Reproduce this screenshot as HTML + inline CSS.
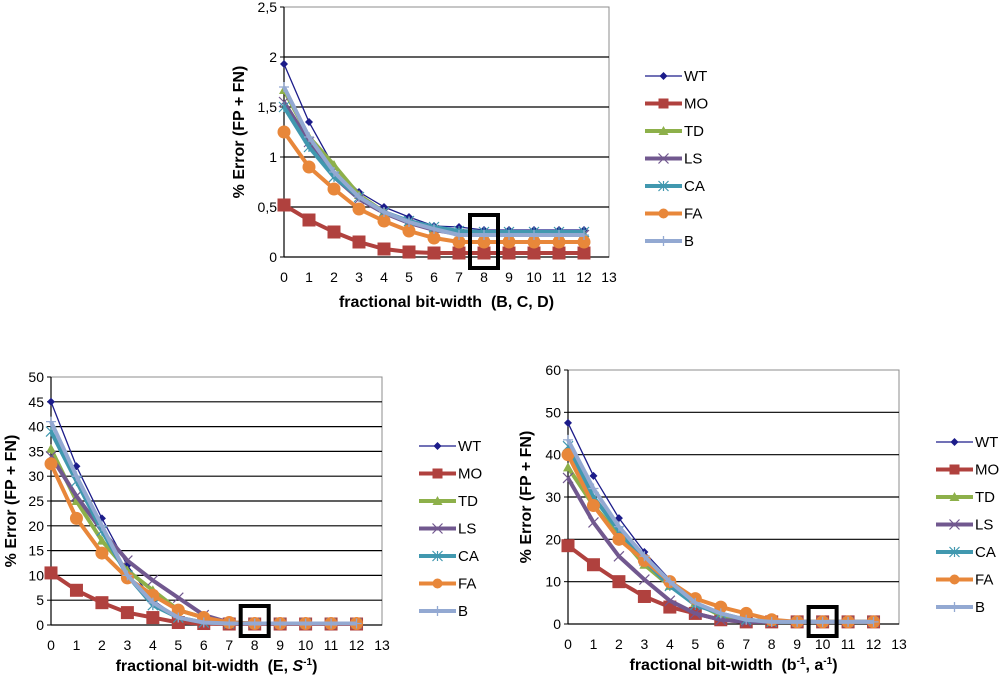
<!DOCTYPE html>
<html><head><meta charset="utf-8">
<style>
body{margin:0;background:#fff;}
svg{display:block;font-family:"Liberation Sans",Arial,sans-serif;}
</style></head>
<body>
<svg id="s" width="1000" height="676" viewBox="0 0 1000 676"></svg>
<script>
const seriesNames=["WT","MO","TD","LS","CA","FA","B"];
const xCategories=[0,1,2,3,4,5,6,7,8,9,10,11,12];
const xTickLabels=["0","1","2","3","4","5","6","7","8","9","10","11","12","13"];
// chart A (top)
const aTicks=["0","0,5","1","1,5","2","2,5"];
const aWT=[1.93,1.35,0.9,0.65,0.5,0.4,0.31,0.3,0.27,0.27,0.27,0.27,0.27];
const aMO=[0.52,0.37,0.25,0.15,0.08,0.05,0.04,0.04,0.04,0.04,0.04,0.04,0.04];
const aTD=[1.67,1.2,0.92,0.62,0.45,0.35,0.28,0.25,0.23,0.23,0.23,0.23,0.23];
const aLS=[1.55,1.15,0.8,0.58,0.44,0.34,0.27,0.23,0.22,0.22,0.22,0.22,0.22];
const aCA=[1.5,1.1,0.8,0.6,0.45,0.36,0.3,0.26,0.25,0.25,0.25,0.25,0.25];
const aFA=[1.25,0.9,0.68,0.48,0.36,0.26,0.19,0.15,0.15,0.15,0.15,0.15,0.15];
const aB=[1.7,1.2,0.85,0.6,0.45,0.35,0.28,0.22,0.22,0.22,0.22,0.22,0.22];
// chart B (bottom-left)
const bTicks=["0","5","10","15","20","25","30","35","40","45","50"];
const bWT=[45,32,21.5,12,5,1.5,0.5,0.2,0.2,0.2,0.2,0.2,0.2];
const bMO=[10.5,7,4.5,2.5,1.5,0.5,0.3,0.2,0.2,0.2,0.2,0.2,0.2];
const bTD=[35.5,25,17,11,7,3,1.5,0.5,0.3,0.3,0.3,0.3,0.3];
const bLS=[34,26,19,13,9,5.5,2,0.5,0.3,0.3,0.3,0.3,0.3];
const bCA=[39,29,19,10,4,1.5,0.5,0.3,0.3,0.3,0.3,0.3,0.3];
const bFA=[32.5,21.5,14.5,9.5,6,3,1.5,0.5,0.3,0.3,0.3,0.3,0.3];
const bB=[41,30,20,10,4.5,1.5,0.5,0.3,0.3,0.3,0.3,0.3,0.3];
// chart C (bottom-right)
const cTicks=["0","10","20","30","40","50","60"];
const cWT=[47.5,35,25,17,10.5,5,2,1,0.5,0.5,0.5,0.5,0.5];
const cMO=[18.5,14,10,6.5,4,2.5,1,0.5,0.5,0.5,0.5,0.5,0.5];
const cTD=[37,28,21,14,9,5,2,1,0.5,0.5,0.5,0.5,0.5];
const cLS=[34.5,24,16,10.5,5.5,2.5,1,0.5,0.5,0.5,0.5,0.5,0.5];
const cCA=[42,30,22,15,9,4.5,2.5,1,0.5,0.5,0.5,0.5,0.5];
const cFA=[40,28,20,15,10,6,4,2.5,1,0.5,0.5,0.5,0.5];
const cB=[43.5,32,23,16,10,5,2.5,1,0.5,0.5,0.5,0.5,0.5];

const styles=[
 {c:"#1C1C8A",w:1.3,m:"diamond",ms:4},
 {c:"#B0413E",w:4,m:"square",ms:6.5},
 {c:"#8DB04A",w:4,m:"triangle",ms:5},
 {c:"#71588F",w:4,m:"x",ms:5},
 {c:"#4198AF",w:4,m:"star",ms:5},
 {c:"#E8873A",w:4,m:"circle",ms:6.5},
 {c:"#93A9D2",w:4,m:"plus",ms:5}
];
const NS="http://www.w3.org/2000/svg";
const svg=document.getElementById('s');
function mk(tag,attrs,parent){const e=document.createElementNS(NS,tag);for(const k in attrs)e.setAttribute(k,attrs[k]);(parent||svg).appendChild(e);return e;}
function marker(g,type,x,y,s,c){
 let e;
 if(type==="diamond")e=mk('polygon',{points:`${x},${y-s} ${x+s},${y} ${x},${y+s} ${x-s},${y}`,fill:c},g);
 else if(type==="square")e=mk('rect',{x:x-s,y:y-s,width:2*s,height:2*s,fill:c},g);
 else if(type==="triangle")e=mk('polygon',{points:`${x},${y-s} ${x+s},${y+s*0.8} ${x-s},${y+s*0.8}`,fill:c},g);
 else if(type==="circle")e=mk('circle',{cx:x,cy:y,r:s,fill:c},g);
 else if(type==="x")e=mk('path',{d:`M${x-s},${y-s}L${x+s},${y+s}M${x-s},${y+s}L${x+s},${y-s}`,stroke:c,'stroke-width':1.2,fill:'none'},g);
 else if(type==="star")e=mk('path',{d:`M${x-s},${y-s}L${x+s},${y+s}M${x-s},${y+s}L${x+s},${y-s}M${x},${y-s}L${x},${y+s}`,stroke:c,'stroke-width':1.2,fill:'none'},g);
 else e=mk('path',{d:`M${x-s},${y}L${x+s},${y}M${x},${y-s}L${x},${y+s}`,stroke:c,'stroke-width':1.3,fill:'none'},g);
 
 
}
function chart(cfg){
 const g=mk('g',{});
 
 
 const {x0,x1,y0,y1,max,ticks}=cfg;
 const X=v=>x0+(x1-x0)*v/13;
 const Y=v=>y0-(y0-y1)*v/max;
 const step=max/(ticks.length-1);
 const area=mk('rect',{x:x0,y:y1,width:x1-x0,height:y0-y1,fill:'#fff',stroke:'#8c8c8c','stroke-width':1},g);
 
 ticks.forEach((t,i)=>{
  const yy=Y(i*step);
  if(i>0&&i<ticks.length-1){const l=mk('line',{x1:x0,x2:x1,y1:yy,y2:yy,stroke:'#000','stroke-width':1.2},g);}
  const tk=mk('line',{x1:x0-4,x2:x0,y1:yy,y2:yy,stroke:'#000'},g);
  const tx=mk('text',{x:x0-7,y:yy+5,'text-anchor':'end','font-size':14,fill:'#000'},g);tx.textContent=t;
  
 });
 const ax=mk('line',{x1:x0,x2:x0,y1:y1,y2:y0,stroke:'#000','stroke-width':1.2},g);
 const bx=mk('line',{x1:x0,x2:x1,y1:y0,y2:y0,stroke:'#000','stroke-width':1.2},g);
 xTickLabels.forEach((t,i)=>{
  const tx=mk('text',{x:X(i),y:y0+25,'text-anchor':'middle','font-size':14,fill:'#000'},g);tx.textContent=t;
  
 });
 const xt=mk('text',{x:(x0+x1)/2,y:y0+cfg.xto,'text-anchor':'middle','font-size':16,'font-weight':'bold',fill:'#000'},g);
 xt.innerHTML=cfg.xtitle;
 const yt=mk('text',{transform:`translate(${cfg.ytx},${(y0+y1)/2}) rotate(-90)`,'text-anchor':'middle','font-size':16,'font-weight':'bold',fill:'#000'},g);
 yt.textContent="% Error (FP + FN)";
 cfg.series.forEach((arr,si)=>{
  const st=styles[si];
  const sg=mk('g',{},g);
  const pts=xCategories.map((c,i)=>X(c)+','+Y(arr[i])).join(' ');
  const pl=mk('polyline',{points:pts,fill:'none',stroke:st.c,'stroke-width':st.w,'stroke-linejoin':'round'},sg);
  
  xCategories.forEach((c,i)=>marker(sg,st.m,X(c),Y(arr[i]),st.ms,st.c));
 });
 const hx=X(cfg.hl);
 const hb=mk('rect',{x:hx-14,y:cfg.hy,width:28,height:cfg.hh,fill:'none',stroke:'#000','stroke-width':4},g);
 
 const lg=mk('g',{},g);
 seriesNames.forEach((n,i)=>{
  const st=styles[i];const yy=cfg.ly+i*27.5;
  const e=mk('g',{},lg);
  mk('line',{x1:cfg.lx,x2:cfg.lx+37,y1:yy,y2:yy,stroke:st.c,'stroke-width':st.w},e);
  marker(e,st.m,cfg.lx+18.5,yy,Math.min(st.ms,5),st.c);
  const t=mk('text',{x:cfg.lx+39,y:yy+5,'font-size':15,fill:'#000'},e);t.textContent=n;
 });
}
chart({name:'chart-bcd',x0:284,x1:609,y0:257,y1:7,max:2.5,ticks:aTicks,series:[aWT,aMO,aTD,aLS,aCA,aFA,aB],
 xtitle:'fractional bit-width&#160; (B, C, D)',xto:50,ytx:244,hl:8,hy:215,hh:53,lx:645,ly:76});
chart({name:'chart-e-s',x0:51,x1:382,y0:625,y1:377,max:50,ticks:bTicks,series:[bWT,bMO,bTD,bLS,bCA,bFA,bB],
 xtitle:'fractional bit-width&#160; (E, <tspan font-style="italic">S</tspan><tspan dy="-6" font-size="10">-1</tspan><tspan dy="6">)</tspan>',xto:46,ytx:16,hl:8,hy:606,hh:30,lx:419,ly:446});
chart({name:'chart-b-a',x0:568,x1:899,y0:624,y1:370,max:60,ticks:cTicks,series:[cWT,cMO,cTD,cLS,cCA,cFA,cB],
 xtitle:'fractional bit-width&#160; (b<tspan dy="-6" font-size="10">-1</tspan><tspan dy="6">, a</tspan><tspan dy="-6" font-size="10">-1</tspan><tspan dy="6">)</tspan>',xto:46,ytx:531,hl:10,hy:607,hh:29,lx:936,ly:442});
</script>
</body></html>
